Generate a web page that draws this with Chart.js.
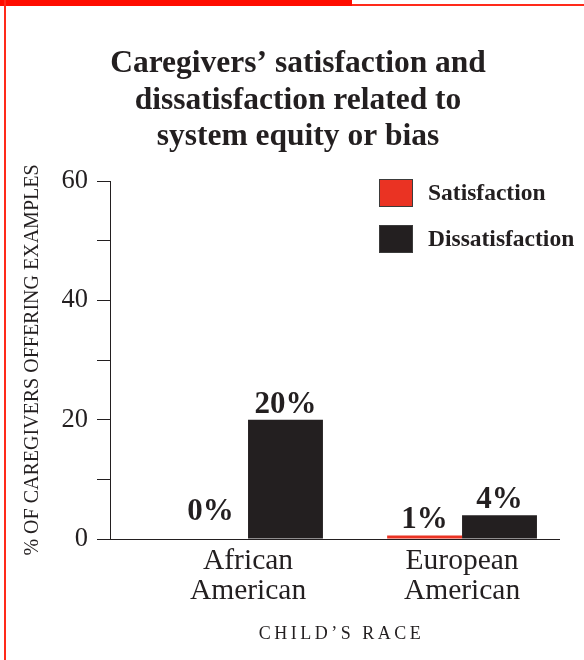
<!DOCTYPE html>
<html lang="en">
<head>
<meta charset="UTF-8">
<title>Caregivers' satisfaction and dissatisfaction</title>
<script src="https://cdn.jsdelivr.net/npm/chart.js@4.4.1/dist/chart.umd.min.js"></script>
<style>
    html, body { margin: 0; padding: 0; background: #fff; }
    .page { position: relative; width: 584px; height: 660px; overflow: hidden; }
    .page canvas { position: absolute; left: 0; top: 0; }
    .bar-top { position: absolute; left: 0; top: 0; width: 352px; height: 6px; background: #ff0d00; }
    .rule-top { position: absolute; left: 352px; right: 0; top: 4px; height: 2px; background: #ff2a1a; }
    .rule-left { position: absolute; left: 4px; top: 0; bottom: 0; width: 2px; background: #ff2a1a; }
</style>
</head>
<body>
<div class="page">
    <canvas id="raceChart" width="584" height="660"></canvas>
    <div class="bar-top"></div>
    <div class="rule-top"></div>
    <div class="rule-left"></div>
</div>
<script>
// chart data
const categories = [['African', 'American'], ['European', 'American']];
const categoryPositions = [1, 2];
const seriesNames = ['Satisfaction', 'Dissatisfaction'];
const satisfaction = [0, 0.6];
const dissatisfaction = [20, 4];
const satisfactionLabels = ['0%', '1%'];
const dissatisfactionLabels = ['20%', '4%'];
const yTicksShown = [0, 20, 40, 60];
const titleLines = ['Caregivers\u2019 satisfaction and', 'dissatisfaction related to', 'system equity or bias'];
const yTitle = '% OF CAREGIVERS OFFERING EXAMPLES';
const xTitle = 'CHILD\u2019S RACE';

const ink = '#231f20';
const serif = '"Liberation Serif", "Times New Roman", serif';

Chart.defaults.color = ink;
Chart.defaults.font.family = serif;

// legend drawn inside the plot, top right
const insideLegend = {
    id: 'insideLegend',
    afterDraw(chart) {
        const { ctx, chartArea } = chart;
        const x0 = chartArea.right - 180;
        const y0 = chartArea.top - 2;
        ctx.save();
        ctx.font = 'bold 23.5px ' + serif;
        ctx.textBaseline = 'middle';
        ctx.textAlign = 'left';
        chart.data.datasets.forEach((ds, i) => {
            const y = y0 + i * 46;
            ctx.fillStyle = ds.backgroundColor;
            ctx.fillRect(x0, y, 34, 28);
            ctx.strokeStyle = '#3b3b3b';
            ctx.lineWidth = 1;
            ctx.strokeRect(x0 + 0.5, y + 0.5, 33, 27);
            ctx.fillStyle = ink;
            ctx.fillText(ds.label, x0 + 49, y + 15);
        });
        ctx.restore();
    }
};

// percent labels above the bars
const valueLabels = {
    id: 'valueLabels',
    afterDatasetsDraw(chart) {
        const ctx = chart.ctx;
        const base = chart.scales.y.getPixelForValue(0);
        ctx.save();
        ctx.font = 'bold 31px ' + serif;
        ctx.fillStyle = ink;
        ctx.textAlign = 'center';
        ctx.textBaseline = 'alphabetic';
        chart.data.datasets.forEach((ds, di) => {
            chart.getDatasetMeta(di).data.forEach((bar, i) => {
                const y = ds.data[i].y === 0 ? base - 19 : bar.y - 7;
                ctx.fillText(ds.valueLabels[i], bar.x, y);
            });
        });
        ctx.restore();
    }
};

// spaced-out x axis title
const xAxisTitle = {
    id: 'xAxisTitle',
    afterDraw(chart) {
        const { ctx, chartArea } = chart;
        ctx.save();
        ctx.font = '18px ' + serif;
        ctx.letterSpacing = '3.5px';
        ctx.fillStyle = ink;
        ctx.textAlign = 'center';
        ctx.textBaseline = 'alphabetic';
        ctx.fillText(xTitle, (chartArea.left + chartArea.right) / 2 + 7, chartArea.bottom + 100);
        ctx.restore();
    }
};

new Chart(document.getElementById('raceChart'), {
    type: 'bar',
    data: {
        datasets: [
            {
                label: seriesNames[0],
                data: categoryPositions.map((x, i) => ({ x: x, y: satisfaction[i] })),
                valueLabels: satisfactionLabels,
                backgroundColor: '#ea3323'
            },
            {
                label: seriesNames[1],
                data: categoryPositions.map((x, i) => ({ x: x, y: dissatisfaction[i] })),
                valueLabels: dissatisfactionLabels,
                backgroundColor: ink
            }
        ]
    },
    options: {
        responsive: false,
        animation: false,
        layout: { padding: { left: 12, right: 0, top: 0, bottom: 0 } },
        datasets: {
            bar: { barPercentage: 1, categoryPercentage: 0.7, borderWidth: 0 }
        },
        scales: {
            x: {
                type: 'linear',
                min: 0.355,
                max: 2.453,
                offset: false,
                afterBuildTicks(scale) {
                    scale.ticks = categoryPositions.map(v => ({ value: v }));
                },
                afterFit(scale) { scale.height = 121; },
                border: { color: ink, width: 1 },
                grid: { display: false, drawTicks: false },
                ticks: {
                    padding: 7,
                    maxRotation: 0,
                    autoSkip: false,
                    color: ink,
                    font: { size: 29.5, lineHeight: '30px' },
                    callback: v => categories[categoryPositions.indexOf(v)]
                }
            },
            y: {
                min: 0,
                max: 60,
                afterFit(scale) { scale.width = 98; },
                border: { color: ink, width: 1 },
                grid: { drawOnChartArea: false, drawTicks: true, tickLength: 13, color: ink },
                ticks: {
                    stepSize: 10,
                    padding: 9,
                    color: ink,
                    font: { size: 26.5 },
                    callback: v => yTicksShown.includes(v) ? v : ''
                },
                title: {
                    display: true,
                    text: yTitle,
                    color: ink,
                    font: { size: 20 },
                    padding: { top: 9, bottom: 0 }
                }
            },
            spacer: {
                position: 'right',
                display: true,
                afterFit(scale) { scale.width = 25; },
                grid: { display: false },
                border: { display: false },
                ticks: { display: false }
            }
        },
        plugins: {
            legend: { display: false },
            tooltip: { enabled: false },
            title: {
                display: true,
                text: titleLines,
                color: ink,
                font: { size: 31.5, weight: 'bold', lineHeight: '36.5px' },
                padding: { top: 46, bottom: 25.5 }
            }
        }
    },
    plugins: [valueLabels, insideLegend, xAxisTitle]
});
</script>
</body>
</html>
